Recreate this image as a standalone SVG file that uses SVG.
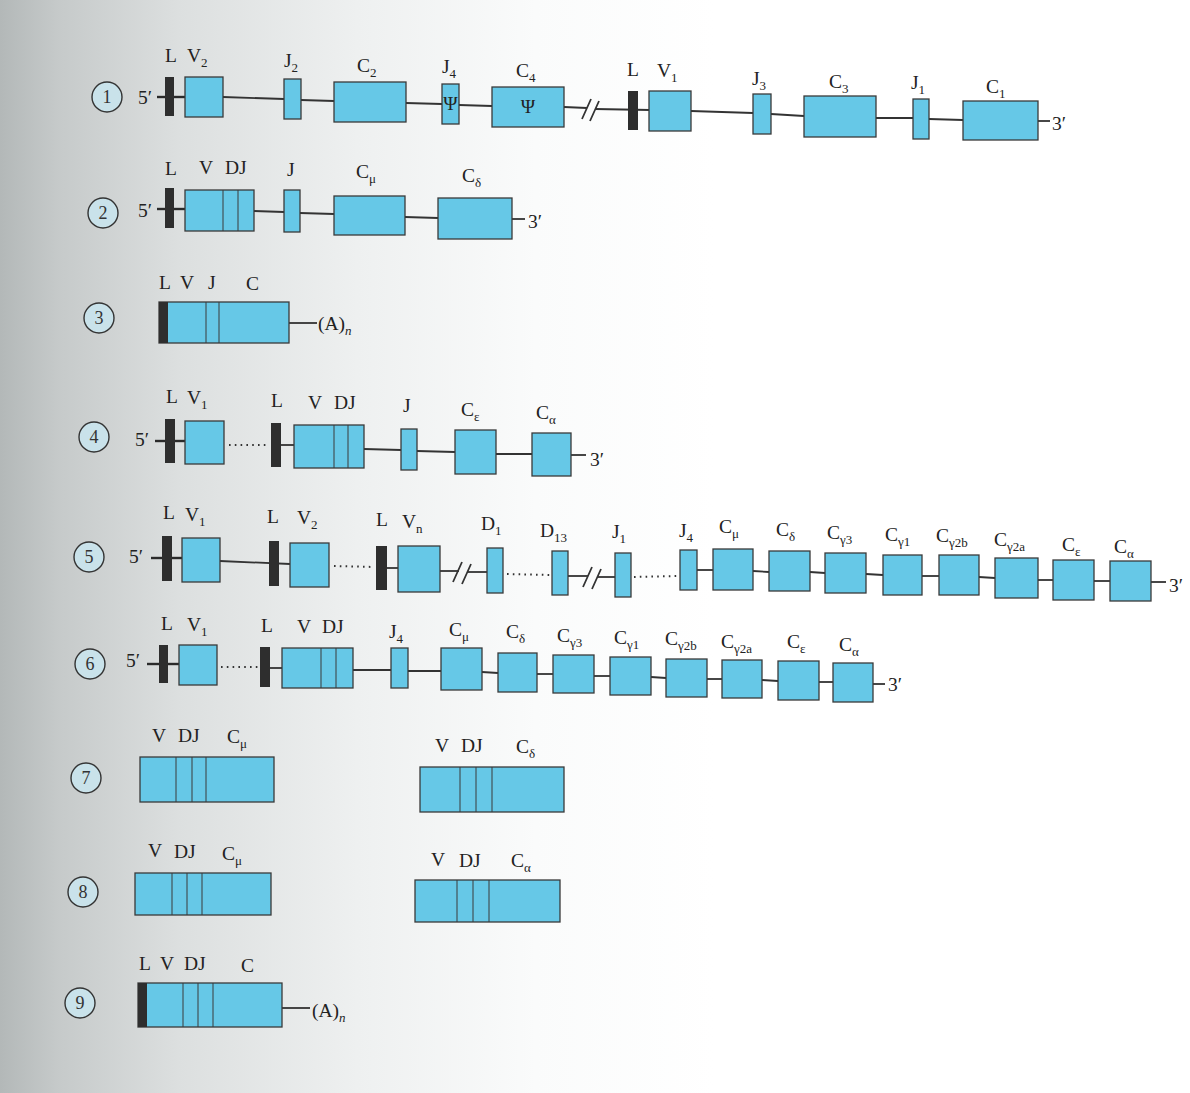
<svg xmlns="http://www.w3.org/2000/svg" width="1190" height="1093" viewBox="0 0 1190 1093">
<defs>
<linearGradient id="bg" x1="0" y1="0" x2="1" y2="0">
<stop offset="0" stop-color="#b3b8b8"/>
<stop offset="0.05" stop-color="#c6caca"/>
<stop offset="0.15" stop-color="#dcdfdf"/>
<stop offset="0.3" stop-color="#eef0f0"/>
<stop offset="0.45" stop-color="#fafbfb"/>
<stop offset="0.6" stop-color="#ffffff"/>
</linearGradient>
<style>
.seg{fill:#66c8e7;stroke:#3a3a3a;stroke-width:1.3}
.lbar{fill:#2e2e2e}
.ln{stroke:#333;stroke-width:1.8;fill:none}
.thick{stroke:#2a2a2a;stroke-width:2.4;fill:none}
.dots{stroke:#333;stroke-width:2;fill:none;stroke-dasharray:1.6 4.2}
.dv{stroke:#3a3a3a;stroke-width:1}
.t{font-family:"Liberation Serif","Times New Roman",serif;font-size:19.5px;fill:#222}
.s{font-size:13px}
.num circle{fill:#c9e2ea;stroke:#333;stroke-width:1.4}
.num text{font-family:"Liberation Serif",serif;font-size:18px;fill:#333;text-anchor:middle}
</style>
</defs>
<rect width="1190" height="1093" fill="url(#bg)"/>

<!-- row numbers -->
<g id="row-numbers">
<g class="num" id="n1"><circle cx="107" cy="97" r="15"/><text x="107" y="103">1</text></g>
<g class="num" id="n2"><circle cx="103" cy="213" r="15"/><text x="103" y="219">2</text></g>
<g class="num" id="n3"><circle cx="99" cy="318" r="15"/><text x="99" y="324">3</text></g>
<g class="num" id="n4"><circle cx="94" cy="437" r="15"/><text x="94" y="443">4</text></g>
<g class="num" id="n5"><circle cx="89" cy="557" r="15"/><text x="89" y="563">5</text></g>
<g class="num" id="n6"><circle cx="90" cy="664" r="15"/><text x="90" y="670">6</text></g>
<g class="num" id="n7"><circle cx="86" cy="778" r="15"/><text x="86" y="784">7</text></g>
<g class="num" id="n8"><circle cx="83" cy="892" r="15"/><text x="83" y="898">8</text></g>
<g class="num" id="n9"><circle cx="80" cy="1003" r="15"/><text x="80" y="1009">9</text></g>
</g>

<!-- connectors -->
<g id="connectors">
<!-- row 1 -->
<path class="thick" d="M157 97 L185 97"/>
<path class="ln" d="M223 97 L284 99"/>
<path class="ln" d="M301 100 L334 101"/>
<path class="ln" d="M406 103 L442 104"/>
<path class="ln" d="M459 105 L492 106"/>
<path class="ln" d="M564 107 L587 108"/>
<path class="ln" d="M582 119 L591 99 M590 121 L599 101"/>
<path class="ln" d="M595 109 L650 110"/>
<path class="ln" d="M691 111 L753 113"/>
<path class="ln" d="M771 114 L804 116"/>
<path class="ln" d="M876 118 L913 118"/>
<path class="ln" d="M929 119 L963 120"/>
<path class="ln" d="M1038 121 L1050 121"/>
<!-- row 2 -->
<path class="thick" d="M157 209 L185 209"/>
<path class="ln" d="M254 211 L284 212"/>
<path class="ln" d="M300 213 L334 214"/>
<path class="ln" d="M405 217 L438 218"/>
<path class="ln" d="M512 219 L525 219"/>
<!-- row 3 -->
<path class="ln" d="M289 323 L317 323"/>
<!-- row 4 -->
<path class="thick" d="M155 441 L185 441"/>
<path class="dots" d="M229 445 L268 445"/>
<path class="ln" d="M280 445 L294 445"/>
<path class="ln" d="M364 449 L401 450"/>
<path class="ln" d="M417 451 L455 452"/>
<path class="ln" d="M496 454 L532 454"/>
<path class="ln" d="M571 455 L586 455"/>
<!-- row 5 -->
<path class="thick" d="M151 558 L182 558"/>
<path class="ln" d="M220 561 L290 564"/>
<path class="dots" d="M334 566 L374 567"/>
<path class="ln" d="M386 568 L398 568"/>
<path class="ln" d="M440 571 L459 571"/>
<path class="ln" d="M453 582 L462 562 M462 584 L471 564"/>
<path class="ln" d="M467 572 L487 572"/>
<path class="dots" d="M507 574 L550 575"/>
<path class="ln" d="M568 576 L588 576"/>
<path class="ln" d="M583 587 L592 567 M592 589 L601 569"/>
<path class="ln" d="M597 577 L615 577"/>
<path class="dots" d="M634 577 L678 576"/>
<path class="ln" d="M697 570 L713 570"/>
<path class="ln" d="M753 571 L769 572"/>
<path class="ln" d="M810 572 L825 573"/>
<path class="ln" d="M866 574 L883 575"/>
<path class="ln" d="M922 576 L939 576"/>
<path class="ln" d="M979 577 L995 578"/>
<path class="ln" d="M1038 580 L1053 580"/>
<path class="ln" d="M1094 581 L1110 581"/>
<path class="ln" d="M1151 582 L1166 582"/>
<!-- row 6 -->
<path class="thick" d="M147 664 L179 664"/>
<path class="dots" d="M221 667 L258 667"/>
<path class="ln" d="M268 668 L282 668"/>
<path class="ln" d="M353 670 L391 670"/>
<path class="ln" d="M408 671 L441 671"/>
<path class="ln" d="M482 672 L498 673"/>
<path class="ln" d="M537 674 L553 674"/>
<path class="ln" d="M594 676 L610 676"/>
<path class="ln" d="M651 677 L666 678"/>
<path class="ln" d="M707 679 L722 679"/>
<path class="ln" d="M762 680 L778 681"/>
<path class="ln" d="M819 682 L833 682"/>
<path class="ln" d="M873 684 L885 684"/>
<!-- row 9 -->
<path class="ln" d="M282 1008 L310 1008"/>
</g>

<!-- Row 1 -->
<g id="row1">
<text class="t" x="138" y="104">5′</text>
<g id="r1-L2"><rect class="lbar" x="165" y="77" width="9" height="39"/><text class="t" x="165" y="62">L</text></g>
<g id="r1-V2"><rect class="seg" x="185" y="77" width="38" height="40"/><text class="t" x="187" y="62">V<tspan class="s" dy="5">2</tspan></text></g>
<g id="r1-J2"><rect class="seg" x="284" y="79" width="17" height="40"/><text class="t" x="284" y="67">J<tspan class="s" dy="5">2</tspan></text></g>
<g id="r1-C2"><rect class="seg" x="334" y="82" width="72" height="40"/><text class="t" x="357" y="72">C<tspan class="s" dy="5">2</tspan></text></g>
<g id="r1-J4"><rect class="seg" x="442" y="84" width="17" height="40"/><text class="t" x="442" y="73">J<tspan class="s" dy="5">4</tspan></text><text class="t" x="450.5" y="110" text-anchor="middle" font-size="17">Ψ</text></g>
<g id="r1-C4"><rect class="seg" x="492" y="87" width="72" height="40"/><text class="t" x="516" y="77">C<tspan class="s" dy="5">4</tspan></text><text class="t" x="528" y="113" text-anchor="middle" font-size="17">Ψ</text></g>
<g id="r1-L1"><rect class="lbar" x="628" y="91" width="10" height="39"/><text class="t" x="627" y="76">L</text></g>
<g id="r1-V1"><rect class="seg" x="649" y="91" width="42" height="40"/><text class="t" x="657" y="77">V<tspan class="s" dy="5">1</tspan></text></g>
<g id="r1-J3"><rect class="seg" x="753" y="94" width="18" height="40"/><text class="t" x="752" y="85">J<tspan class="s" dy="5">3</tspan></text></g>
<g id="r1-C3"><rect class="seg" x="804" y="96" width="72" height="41"/><text class="t" x="829" y="88">C<tspan class="s" dy="5">3</tspan></text></g>
<g id="r1-J1"><rect class="seg" x="913" y="99" width="16" height="40"/><text class="t" x="911" y="89">J<tspan class="s" dy="5">1</tspan></text></g>
<g id="r1-C1"><rect class="seg" x="963" y="101" width="75" height="39"/><text class="t" x="986" y="93">C<tspan class="s" dy="5">1</tspan></text></g>
<text class="t" x="1052" y="130">3′</text>
</g>

<!-- Row 2 -->
<g id="row2">
<text class="t" x="138" y="217">5′</text>
<g id="r2-L"><rect class="lbar" x="165" y="188" width="9" height="40"/><text class="t" x="165" y="175">L</text></g>
<g id="r2-VDJ"><rect class="seg" x="185" y="190" width="69" height="41"/><line class="dv" x1="223" y1="190" x2="223" y2="231"/><line class="dv" x1="238" y1="190" x2="238" y2="231"/><text class="t" x="199" y="174">V</text><text class="t" x="225" y="174">DJ</text></g>
<g id="r2-J"><rect class="seg" x="284" y="190" width="16" height="42"/><text class="t" x="287" y="176">J</text></g>
<g id="r2-Cmu"><rect class="seg" x="334" y="196" width="71" height="39"/><text class="t" x="356" y="178">C<tspan class="s" dy="5">μ</tspan></text></g>
<g id="r2-Cdelta"><rect class="seg" x="438" y="198" width="74" height="41"/><text class="t" x="462" y="182">C<tspan class="s" dy="5">δ</tspan></text></g>
<text class="t" x="528" y="228">3′</text>
</g>

<!-- Row 3 -->
<g id="row3">
<g id="r3-LVJC"><rect class="seg" x="159" y="302" width="130" height="41"/><rect class="lbar" x="159" y="302" width="9" height="41"/><line class="dv" x1="206" y1="302" x2="206" y2="343"/><line class="dv" x1="219" y1="302" x2="219" y2="343"/>
<text class="t" x="159" y="289">L</text><text class="t" x="180" y="289">V</text><text class="t" x="208" y="289">J</text><text class="t" x="246" y="290">C</text></g>
<text class="t" x="318" y="330">(A)<tspan class="s" dy="5" font-style="italic" font-size="15">n</tspan></text>
</g>

<!-- Row 4 -->
<g id="row4">
<text class="t" x="135" y="446">5′</text>
<g id="r4-L1"><rect class="lbar" x="165" y="419" width="10" height="44"/><text class="t" x="166" y="403">L</text></g>
<g id="r4-V1"><rect class="seg" x="185" y="421" width="39" height="43"/><text class="t" x="187" y="404">V<tspan class="s" dy="5">1</tspan></text></g>
<g id="r4-L2"><rect class="lbar" x="271" y="423" width="10" height="44"/><text class="t" x="271" y="407">L</text></g>
<g id="r4-VDJ"><rect class="seg" x="294" y="425" width="70" height="43"/><line class="dv" x1="334" y1="425" x2="334" y2="468"/><line class="dv" x1="348" y1="425" x2="348" y2="468"/><text class="t" x="308" y="409">V</text><text class="t" x="334" y="409">DJ</text></g>
<g id="r4-J"><rect class="seg" x="401" y="429" width="16" height="41"/><text class="t" x="403" y="412">J</text></g>
<g id="r4-Ceps"><rect class="seg" x="455" y="430" width="41" height="44"/><text class="t" x="461" y="416">C<tspan class="s" dy="5">ε</tspan></text></g>
<g id="r4-Calpha"><rect class="seg" x="532" y="433" width="39" height="43"/><text class="t" x="536" y="419">C<tspan class="s" dy="5">α</tspan></text></g>
<text class="t" x="590" y="466">3′</text>
</g>

<!-- Row 5 -->
<g id="row5">
<text class="t" x="129" y="563">5′</text>
<g id="r5-L1"><rect class="lbar" x="162" y="536" width="10" height="45"/><text class="t" x="163" y="519">L</text></g>
<g id="r5-V1"><rect class="seg" x="182" y="538" width="38" height="44"/><text class="t" x="185" y="521">V<tspan class="s" dy="5">1</tspan></text></g>
<g id="r5-L2"><rect class="lbar" x="269" y="541" width="10" height="45"/><text class="t" x="267" y="523">L</text></g>
<g id="r5-V2"><rect class="seg" x="290" y="543" width="39" height="44"/><text class="t" x="297" y="524">V<tspan class="s" dy="5">2</tspan></text></g>
<g id="r5-Ln"><rect class="lbar" x="376" y="546" width="11" height="44"/><text class="t" x="376" y="526">L</text></g>
<g id="r5-Vn"><rect class="seg" x="398" y="546" width="42" height="46"/><text class="t" x="402" y="528">V<tspan class="s" dy="5">n</tspan></text></g>
<g id="r5-D1"><rect class="seg" x="487" y="548" width="16" height="45"/><text class="t" x="481" y="530">D<tspan class="s" dy="5">1</tspan></text></g>
<g id="r5-D13"><rect class="seg" x="552" y="551" width="16" height="44"/><text class="t" x="540" y="537">D<tspan class="s" dy="5">13</tspan></text></g>
<g id="r5-J1"><rect class="seg" x="615" y="553" width="16" height="44"/><text class="t" x="612" y="538">J<tspan class="s" dy="5">1</tspan></text></g>
<g id="r5-J4"><rect class="seg" x="680" y="550" width="17" height="40"/><text class="t" x="679" y="537">J<tspan class="s" dy="5">4</tspan></text></g>
<g id="r5-Cmu"><rect class="seg" x="713" y="549" width="40" height="41"/><text class="t" x="719" y="533">C<tspan class="s" dy="5">μ</tspan></text></g>
<g id="r5-Cdelta"><rect class="seg" x="769" y="551" width="41" height="40"/><text class="t" x="776" y="536">C<tspan class="s" dy="5">δ</tspan></text></g>
<g id="r5-Cg3"><rect class="seg" x="825" y="553" width="41" height="40"/><text class="t" x="827" y="539">C<tspan class="s" dy="5">γ3</tspan></text></g>
<g id="r5-Cg1"><rect class="seg" x="883" y="555" width="39" height="40"/><text class="t" x="885" y="541">C<tspan class="s" dy="5">γ1</tspan></text></g>
<g id="r5-Cg2b"><rect class="seg" x="939" y="555" width="40" height="40"/><text class="t" x="936" y="542">C<tspan class="s" dy="5">γ2b</tspan></text></g>
<g id="r5-Cg2a"><rect class="seg" x="995" y="558" width="43" height="40"/><text class="t" x="994" y="546">C<tspan class="s" dy="5">γ2a</tspan></text></g>
<g id="r5-Ceps"><rect class="seg" x="1053" y="560" width="41" height="40"/><text class="t" x="1062" y="551">C<tspan class="s" dy="5">ε</tspan></text></g>
<g id="r5-Calpha"><rect class="seg" x="1110" y="561" width="41" height="40"/><text class="t" x="1114" y="553">C<tspan class="s" dy="5">α</tspan></text></g>
<text class="t" x="1169" y="592">3′</text>
</g>

<!-- Row 6 -->
<g id="row6">
<text class="t" x="126" y="667">5′</text>
<g id="r6-L1"><rect class="lbar" x="159" y="645" width="9" height="38"/><text class="t" x="161" y="630">L</text></g>
<g id="r6-V1"><rect class="seg" x="179" y="645" width="38" height="40"/><text class="t" x="187" y="631">V<tspan class="s" dy="5">1</tspan></text></g>
<g id="r6-L2"><rect class="lbar" x="260" y="647" width="10" height="40"/><text class="t" x="261" y="632">L</text></g>
<g id="r6-VDJ"><rect class="seg" x="282" y="648" width="71" height="40"/><line class="dv" x1="321" y1="648" x2="321" y2="688"/><line class="dv" x1="336" y1="648" x2="336" y2="688"/><text class="t" x="297" y="633">V</text><text class="t" x="322" y="633">DJ</text></g>
<g id="r6-J4"><rect class="seg" x="391" y="648" width="17" height="40"/><text class="t" x="389" y="638">J<tspan class="s" dy="5">4</tspan></text></g>
<g id="r6-Cmu"><rect class="seg" x="441" y="648" width="41" height="42"/><text class="t" x="449" y="636">C<tspan class="s" dy="5">μ</tspan></text></g>
<g id="r6-Cdelta"><rect class="seg" x="498" y="653" width="39" height="39"/><text class="t" x="506" y="638">C<tspan class="s" dy="5">δ</tspan></text></g>
<g id="r6-Cg3"><rect class="seg" x="553" y="655" width="41" height="38"/><text class="t" x="557" y="642">C<tspan class="s" dy="5">γ3</tspan></text></g>
<g id="r6-Cg1"><rect class="seg" x="610" y="657" width="41" height="38"/><text class="t" x="614" y="644">C<tspan class="s" dy="5">γ1</tspan></text></g>
<g id="r6-Cg2b"><rect class="seg" x="666" y="659" width="41" height="38"/><text class="t" x="665" y="645">C<tspan class="s" dy="5">γ2b</tspan></text></g>
<g id="r6-Cg2a"><rect class="seg" x="722" y="660" width="40" height="38"/><text class="t" x="721" y="648">C<tspan class="s" dy="5">γ2a</tspan></text></g>
<g id="r6-Ceps"><rect class="seg" x="778" y="661" width="41" height="39"/><text class="t" x="787" y="648">C<tspan class="s" dy="5">ε</tspan></text></g>
<g id="r6-Calpha"><rect class="seg" x="833" y="663" width="40" height="39"/><text class="t" x="839" y="651">C<tspan class="s" dy="5">α</tspan></text></g>
<text class="t" x="888" y="691">3′</text>
</g>

<!-- Row 7 -->
<g id="row7">
<g id="r7-VDJCmu"><rect class="seg" x="140" y="757" width="134" height="45"/><line class="dv" x1="176" y1="757" x2="176" y2="802"/><line class="dv" x1="192" y1="757" x2="192" y2="802"/><line class="dv" x1="206" y1="757" x2="206" y2="802"/>
<text class="t" x="152" y="742">V</text><text class="t" x="178" y="742">DJ</text><text class="t" x="227" y="743">C<tspan class="s" dy="5">μ</tspan></text></g>
<g id="r7-VDJCdelta"><rect class="seg" x="420" y="767" width="144" height="45"/><line class="dv" x1="460" y1="767" x2="460" y2="812"/><line class="dv" x1="476" y1="767" x2="476" y2="812"/><line class="dv" x1="492" y1="767" x2="492" y2="812"/>
<text class="t" x="435" y="752">V</text><text class="t" x="461" y="752">DJ</text><text class="t" x="516" y="753">C<tspan class="s" dy="5">δ</tspan></text></g>
</g>

<!-- Row 8 -->
<g id="row8">
<g id="r8-VDJCmu"><rect class="seg" x="135" y="873" width="136" height="42"/><line class="dv" x1="172" y1="873" x2="172" y2="915"/><line class="dv" x1="187" y1="873" x2="187" y2="915"/><line class="dv" x1="202" y1="873" x2="202" y2="915"/>
<text class="t" x="148" y="857">V</text><text class="t" x="174" y="858">DJ</text><text class="t" x="222" y="860">C<tspan class="s" dy="5">μ</tspan></text></g>
<g id="r8-VDJCalpha"><rect class="seg" x="415" y="880" width="145" height="42"/><line class="dv" x1="457" y1="880" x2="457" y2="922"/><line class="dv" x1="473" y1="880" x2="473" y2="922"/><line class="dv" x1="489" y1="880" x2="489" y2="922"/>
<text class="t" x="431" y="866">V</text><text class="t" x="459" y="867">DJ</text><text class="t" x="511" y="867">C<tspan class="s" dy="5">α</tspan></text></g>
</g>

<!-- Row 9 -->
<g id="row9">
<g id="r9-LVDJC"><rect class="seg" x="138" y="983" width="144" height="44"/><rect class="lbar" x="138" y="983" width="9" height="44"/><line class="dv" x1="183" y1="983" x2="183" y2="1027"/><line class="dv" x1="198" y1="983" x2="198" y2="1027"/><line class="dv" x1="213" y1="983" x2="213" y2="1027"/>
<text class="t" x="139" y="970">L</text><text class="t" x="160" y="970">V</text><text class="t" x="184" y="970">DJ</text><text class="t" x="241" y="972">C</text></g>
<text class="t" x="312" y="1017">(A)<tspan class="s" dy="5" font-style="italic" font-size="15">n</tspan></text>
</g>
</svg>
